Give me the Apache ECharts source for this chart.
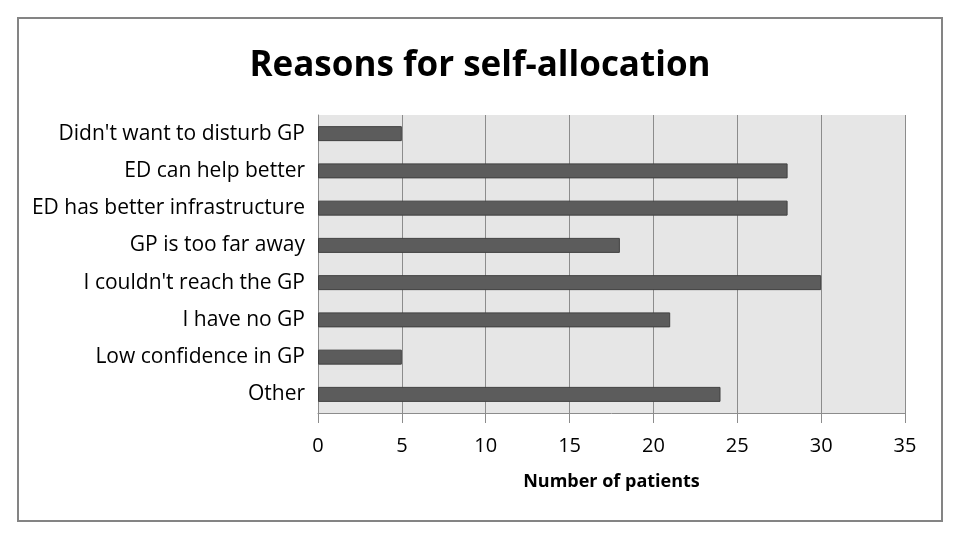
<!DOCTYPE html>
<html><head><meta charset="utf-8">
<script src="https://cdn.jsdelivr.net/npm/echarts@6/dist/echarts.min.js"></script>
<style>html,body{margin:0;padding:0;background:#fff}#c{width:960px;height:540px}</style>
</head><body><div id="c"></div>
<script>
const categories = ["Didn't want to disturb GP","ED can help better","ED has better infrastructure","GP is too far away","I couldn't reach the GP","I have no GP","Low confidence in GP","Other"];
const values = [5,28,28,18,30,21,5,24];
const xTicks = [0,5,10,15,20,25,30,35];
const titleText = "Reasons for self-allocation";
const xAxisName = "Number of patients";

const chart = echarts.init(document.getElementById('c'), null, {renderer:'canvas'});
const FONT = "'Open Sans', 'Noto Sans', sans-serif";
chart.setOption({
  animation:false,
  backgroundColor:'#fff',
  graphic:[{type:'rect',shape:{x:18,y:18,width:924,height:503},style:{fill:'none',stroke:'#848484',lineWidth:2},silent:true}],
  title:{text:titleText,left:'center',top:44,textStyle:{fontFamily:FONT,fontWeight:'bold',fontSize:35,color:'#000'}},
  grid:{left:318,right:55,top:115,bottom:127,containLabel:false,backgroundColor:'#e6e6e6',show:true,borderWidth:0},
  xAxis:{type:'value',min:0,max:35,interval:5,
    axisLine:{show:true,lineStyle:{color:'#8c8c8c',width:1}},
    axisTick:{show:true,length:10,lineStyle:{color:'#8c8c8c'}},
    axisLabel:{fontFamily:FONT,fontSize:20,color:'#000',margin:23,formatter:v=>xTicks.includes(v)?String(v):''},
    splitLine:{show:true,lineStyle:{color:'#8c8c8c',width:1}},
    name:xAxisName,nameLocation:'middle',nameGap:60,
    nameTextStyle:{fontFamily:FONT,fontWeight:'bold',fontSize:18,color:'#000'}},
  yAxis:{type:'category',data:categories,inverse:true,
    axisLine:{show:true,lineStyle:{color:'#8c8c8c'}},
    axisTick:{show:false},
    axisLabel:{fontFamily:FONT,fontSize:21,color:'#000',margin:13},
    splitLine:{show:false}},
  series:[{type:'bar',data:values,barWidth:15,
    itemStyle:{color:'#5c5c5c',borderColor:'#404040',borderWidth:1}}]
});
</script></body></html>
